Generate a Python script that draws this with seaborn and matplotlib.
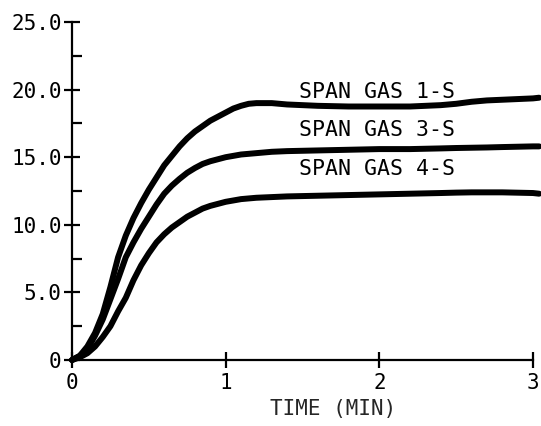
import matplotlib
matplotlib.use("Agg")
import matplotlib.pyplot as plt
import seaborn as sns
import pandas as pd
from matplotlib.ticker import MultipleLocator

# ---- data ----
time_min = [0, 0.05, 0.1, 0.15, 0.2, 0.25, 0.3, 0.35, 0.4, 0.45, 0.5, 0.55,
            0.6, 0.65, 0.7, 0.75, 0.8, 0.85, 0.9, 0.95, 1.0, 1.05, 1.1, 1.15,
            1.2, 1.3, 1.4, 1.6, 1.8, 2.0, 2.2, 2.4, 2.5, 2.6, 2.7, 2.8, 3.0, 3.04]
gas_1s = [0, 0.3, 1.0, 2.0, 3.4, 5.4, 7.6, 9.2, 10.5, 11.6, 12.6, 13.5,
          14.4, 15.1, 15.8, 16.4, 16.9, 17.3, 17.7, 18.0, 18.3, 18.6, 18.8, 18.95,
          19.0, 19.0, 18.9, 18.8, 18.75, 18.75, 18.75, 18.85, 18.95, 19.1, 19.2,
          19.25, 19.35, 19.4]
gas_3s = [0, 0.3, 0.8, 1.8, 3.0, 4.5, 6.0, 7.6, 8.7, 9.7, 10.6, 11.5,
          12.3, 12.9, 13.4, 13.85, 14.2, 14.5, 14.7, 14.85, 15.0, 15.1, 15.2, 15.25,
          15.3, 15.4, 15.45, 15.5, 15.55, 15.6, 15.6, 15.65, 15.68, 15.7, 15.72,
          15.75, 15.8, 15.8]
gas_4s = [0, 0.2, 0.5, 1.0, 1.7, 2.5, 3.6, 4.6, 5.9, 7.0, 7.9, 8.7,
          9.3, 9.8, 10.2, 10.6, 10.9, 11.2, 11.4, 11.55, 11.7, 11.8, 11.9, 11.95,
          12.0, 12.05, 12.1, 12.15, 12.2, 12.25, 12.3, 12.35, 12.38, 12.4, 12.4,
          12.4, 12.35, 12.3]
series_names = ["SPAN GAS 1-S", "SPAN GAS 3-S", "SPAN GAS 4-S"]
label_pos = [(1.48, 19.35), (1.48, 16.55), (1.48, 13.7)]
y_ticks = [0, 5, 10, 15, 20, 25]
y_tick_labels = ["0", "5.0", "10.0", "15.0", "20.0", "25.0"]
x_ticks = [0, 1, 2, 3]
x_tick_labels = ["0", "1", "2", "3"]
x_label = "TIME (MIN)"

df = pd.concat([
    pd.DataFrame({"time": time_min, "value": vals, "gas": name})
    for name, vals in zip(series_names, [gas_1s, gas_3s, gas_4s])
])

sns.set_style("ticks")
plt.rcParams["font.family"] = ["DejaVu Sans Mono", "DejaVu Sans"]

fig = plt.figure(figsize=(5.41, 4.26), dpi=100)
ax = fig.add_axes([72 / 541, 1 - 360 / 426, (533 - 72) / 541, 338 / 426])

sns.lineplot(data=df, x="time", y="value", hue="gas",
             palette=["black"] * 3, linewidth=4.3, legend=False, ax=ax,
             clip_on=False, sort=True, estimator=None)
for line in ax.lines:
    line.set_solid_capstyle("round")
    line.set_solid_joinstyle("round")

for name, (x, y) in zip(series_names, label_pos):
    ax.text(x, y, name, fontsize=15.5, va="baseline", ha="left", color="black")

ax.set_xlim(0, 3)
ax.set_ylim(0, 25)
ax.set_xticks(x_ticks)
ax.set_xticklabels(x_tick_labels, fontsize=15)
ax.set_yticks(y_ticks)
ax.set_yticklabels(y_tick_labels, fontsize=15)
ax.yaxis.set_minor_locator(MultipleLocator(2.5))

sns.despine(ax=ax)
for s in ["left", "bottom"]:
    ax.spines[s].set_linewidth(1.6)
    ax.spines[s].set_color("black")

ax.tick_params(axis="both", which="major", direction="inout", length=11,
               width=1.6, colors="black", pad=2)
ax.tick_params(axis="x", which="major", pad=4)
ax.tick_params(axis="y", which="minor", direction="in", length=7, width=1.6,
               colors="black")
ax.set_xlabel(x_label, fontsize=15)
ax.set_ylabel("")
ax.xaxis.set_label_coords(0.566, -0.115)
ax.xaxis.label.set_va("top")

fig.savefig("out.png", dpi=100, facecolor="white")
